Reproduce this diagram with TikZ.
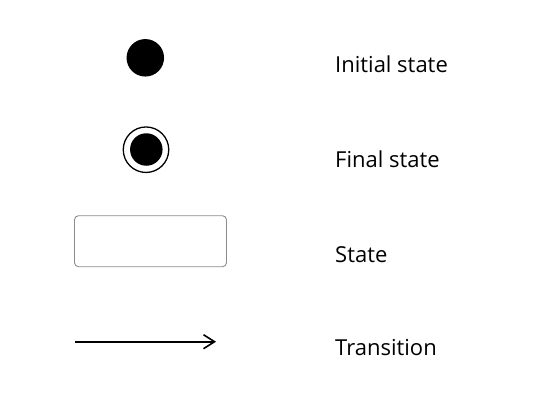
\documentclass[tikz,border=0pt]{standalone}
\usepackage{fontspec}
\setmainfont{Open Sans}
\usetikzlibrary{arrows.meta}
\begin{document}
\begin{tikzpicture}[x=1pt,y=-1pt,
  lbl/.style={anchor=base west,inner sep=0pt,font=\fontsize{22}{26}\selectfont,text=black},
  initdot/.style={circle,fill=black,minimum size=37.5pt,inner sep=0pt},
  finaldot/.style={circle,fill=black,minimum size=32.5pt,inner sep=0pt},
  finalring/.style={circle,draw=black,line width=1.3pt,minimum size=45.5pt,inner sep=0pt},
  statebox/.style={draw=black!45,line width=0.9pt,rounded corners=4pt,minimum width=152pt,minimum height=51pt,inner sep=0pt},
  trans/.style={line width=1.8pt,-{Straight Barb[length=11pt,width=14pt,line width=1.6pt]}}]
\useasboundingbox (0,0) rectangle (537,416);
\node[initdot] (init) at (145.3,57.8) {};
\node[finalring] (finalo) at (146,149.7) {};
\node[finaldot] (final) at (146.3,149.5) {};
\node[statebox] (state) at (150.5,241.2) {};
\coordinate (ta) at (75,341.7);
\coordinate (tb) at (216,341.7);
\draw[trans] (ta) -- (tb);
\node[lbl] (l1) at (335,72.3) {Initial state};
\node[lbl] (l2) at (335,167.7) {Final state};
\node[lbl] (l3) at (335,262) {State};
\node[lbl] (l4) at (335,355) {Transition};
\end{tikzpicture}
\end{document}
